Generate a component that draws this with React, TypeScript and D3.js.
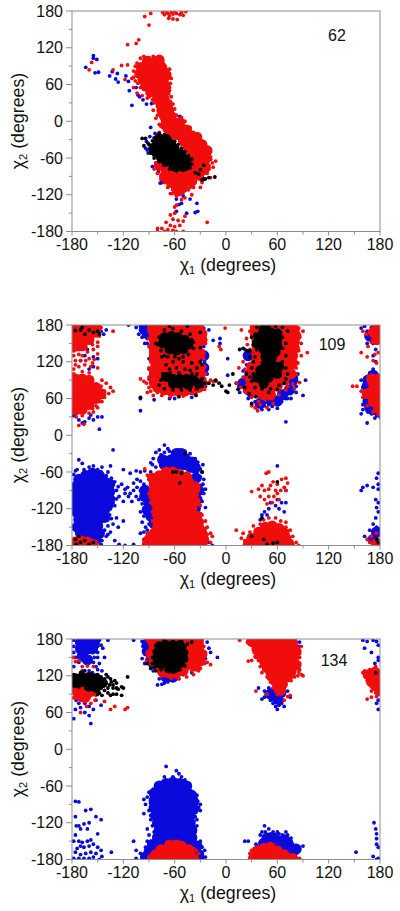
import React from "react";
import * as d3 from "d3";

type P = [number, number];

const xTicks = [-180, -120, -60, 0, 60, 120, 180];
const yTicks = [-180, -120, -60, 0, 60, 120, 180];
const minorTicks = [-150, -90, -30, 30, 90, 150];

// ---- residue 62 ----
const label62 = "62";
const blue62: P[] = [[-164,88],[-155,107],[-155,103],[-151,101],[-153,79],[-149,80],[-136,74],[-133,81],[-127,78],[-129,69],[-126,64],[-117,74],[-114,65],[-113,50],[-110,26],[-103,43],[-101,40],[-97,35],[-93,28],[-87,29],[-77,35],[-73,35],[-69,24],[-66,21],[-62,8],[-54,8],[-58,2],[-64,14],[-72,20],[-105,55],[-95,52],[-88,-10],[-83,-20],[-89,-25],[-93,-33],[-94,-44],[-91,-52],[-92,-47],[-86,-74],[-82,-68],[-79,-82],[-77,-101],[-73,-93],[-75,-100],[-70,-98],[-66,-104],[-62,-112],[-58,-127],[-52,-134],[-58,-147],[-46,-150],[-33,-147],[-36,-149],[-34,-134],[-42,-127],[-55,-118],[-50,-122],[-55,-136],[-42,-20],[-38,-24],[-34,-31],[-30,-36],[-24,-41],[-21,-60],[-24,-66]];
const red62: P[] = [[-95,171],[-88,176],[-90,157],[-47,179],[-115,125],[-105,127],[-102,133],[-157,96],[-160,84],[-132,84],[-122,91],[-115,92],[-110,70],[-118,68],[-108,55],[-104,46],[-98,42],[-92,38],[-74,178],[-72,174],[-70,180],[-68,176],[-66,172],[-64,178],[-62,175],[-60,180],[-58,176],[-54,174],[-52,178],[-67,168],[-62,167],[-57,166],[-50,173],[-66,85],[-70,60],[-66,50],[-64,40],[-80,10],[-85,18],[-78,-5],[-30,-108],[-25,-95],[-18,-92],[-15,-75],[-12,-65],[-18,-62],[-44,-112],[-40,-120],[-38,-108],[-48,-125],[-52,-128],[-65,-118],[-60,-140],[-58,-137],[-22,-165],[-60,-150],[-65,-153],[-48,-155],[-62,-160],[-56,-162],[-50,-163],[-70,-165],[-65,-170],[-60,-172],[-54,-170],[-75,-175],[-68,-177],[-62,-178],[-72,-180],[-80,-175],[-80,-180],[-58,-180],[-50,-180],[-40,-105],[-28,-100],[-22,-85],[-20,-72],[-108,82],[-106,90],[-104,95],[-100,103],[-96,106],[-90,104],[-85,106],[-82,102],[-74,96],[-72,90],[-68,84],[-66,78],[-64,70],[-65,62],[-66,55],[-67,45],[-68,38],[-108,72],[-106,66],[-103,62],[-100,55],[-96,52],[-92,45],[-90,40],[-86,35],[-84,30],[-80,24],[-82,5],[-76,-8],[-60,20],[-62,28],[-58,10],[-52,6],[-48,0],[-42,-10],[-38,-18],[-33,-25],[-28,-32],[-24,-40],[-20,-50],[-18,-58],[-22,-68],[-16,-68],[-20,-78],[-25,-85],[-30,-95],[-36,-100],[-42,-108],[-50,-116],[-58,-122],[-63,-118],[-68,-108],[-72,-100],[-76,-95],[-80,-85],[-84,-78],[-74,-10],[-78,-18]];
const redCore62: P[] = [[-92,98],[-84,96],[-78,100],[-99,88],[-91,88],[-83,88],[-75,88],[-101,78],[-93,78],[-85,78],[-77,78],[-70,75],[-97,68],[-89,68],[-81,68],[-73,68],[-94,58],[-86,58],[-78,58],[-71,58],[-88,48],[-80,48],[-72,48],[-80,38],[-73,38],[-76,28],[-68,28],[-75,18],[-67,18],[-72,8],[-64,8],[-70,-2],[-62,-2],[-54,-2],[-68,-12],[-60,-12],[-52,-12],[-46,-14],[-66,-22],[-58,-22],[-50,-22],[-42,-24],[-34,-26],[-50,-32],[-42,-32],[-36,-34],[-28,-38],[-44,-42],[-36,-42],[-30,-44],[-22,-48],[-40,-50],[-32,-52],[-25,-52],[-38,-60],[-30,-60],[-24,-62],[-36,-70],[-28,-70],[-24,-76],[-78,-72],[-70,-80],[-62,-84],[-54,-84],[-46,-84],[-38,-82],[-30,-80],[-72,-90],[-64,-92],[-56,-92],[-48,-92],[-40,-90],[-32,-88],[-64,-100],[-56,-100],[-48,-100],[-40,-98],[-58,-108],[-50,-108],[-56,-114]];
const black62: P[] = [[-98,-28],[-94,-28],[-96,-40],[-91,-36],[-88,-48],[-28,-96],[-26,-94],[-20,-92],[-13,-91],[-24,-94],[-30,-79],[-26,-72],[-36,-84],[-32,-86],[-90,-38],[-89,-44],[-88,-52],[-84,-60],[-78,-66],[-72,-72],[-66,-78],[-58,-81],[-50,-80],[-42,-76],[-40,-70],[-40,-62],[-44,-56],[-48,-50],[-52,-44],[-56,-38],[-60,-33],[-66,-28],[-72,-22],[-78,-20],[-84,-27],[-86,-32]];
const blackCore62: P[] = [[-78,-28],[-70,-29],[-80,-36],[-72,-36],[-64,-37],[-84,-43],[-76,-44],[-68,-44],[-60,-45],[-82,-51],[-74,-52],[-66,-52],[-58,-53],[-52,-54],[-76,-59],[-68,-60],[-60,-60],[-52,-62],[-47,-63],[-70,-66],[-62,-68],[-54,-69],[-47,-69],[-61,-74],[-54,-74],[-48,-74]];

// ---- residue 109 ----
const label109 = "109";
const blue109: P[] = [[-176,-178],[-176,-58],[-172,-40],[-168,-46],[-160,-52],[-155,-50],[-150,-56],[-145,-52],[-138,-60],[-135,-50],[-132,-24],[-120,-56],[-112,-62],[-105,-58],[-100,-60],[-95,-58],[-122,-80],[-115,-85],[-108,-78],[-100,-75],[-118,-95],[-125,-100],[-120,-108],[-112,-95],[-105,-100],[-110,-108],[-98,-95],[-92,-85],[-128,-90],[-130,-115],[-135,-120],[-128,-135],[-120,-140],[-132,-145],[-126,-150],[-135,-158],[-140,-165],[-130,-172],[-125,-178],[-118,-180],[-108,-178],[-145,-172],[-100,-160],[-96,-170],[-92,-178],[-88,-45],[-85,-38],[-82,-28],[-78,-24],[-72,-16],[-88,-60],[-68,-22],[-62,-28],[-30,-55],[-27,-48],[-33,-44],[-28,-60],[-26,-72],[-30,-82],[-24,-88],[-26,-95],[-28,-108],[-24,-118],[-30,-128],[-20,-175],[-26,-170],[-16,-180],[-30,-140],[-40,-165],[-162,140],[-175,140],[-170,122],[-165,130],[-155,128],[-150,125],[-160,108],[-155,112],[-148,78],[-178,32],[-172,25],[-168,20],[-176,35],[-160,28],[-155,25],[-150,30],[-145,30],[-158,33],[-148,10],[-145,62],[-165,22],[-150,172],[-146,170],[-148,178],[-143,165],[-140,172],[-155,176],[-114,180],[-105,176],[-100,172],[-97,180],[-102,165],[-95,150],[-92,158],[-88,130],[-85,120],[-90,108],[-100,40],[-84,58],[-66,60],[-60,60],[-40,62],[-15,155],[-7,150],[-7,158],[-26,165],[-25,120],[-22,100],[-24,80],[-20,172],[2,98],[2,125],[12,85],[16,70],[15,80],[22,140],[24,125],[20,105],[24,90],[26,60],[30,50],[35,45],[42,42],[45,48],[50,42],[54,47],[60,50],[65,55],[70,60],[72,68],[75,76],[80,85],[82,95],[78,105],[80,112],[75,125],[70,22],[93,90],[90,65],[82,70],[76,60],[60,44],[55,58],[63,62],[68,72],[-100,60],[165,20],[158,35],[160,42],[165,40],[170,35],[176,32],[180,30],[178,40],[160,50],[162,82],[158,90],[165,95],[168,102],[165,150],[172,150],[175,140],[172,130],[175,120],[162,178],[158,175],[170,176],[165,170],[178,-62],[176,-70],[178,-80],[178,-88],[172,-85],[165,-82],[160,-85],[158,-90],[175,-105],[178,-110],[176,-118],[178,-125],[175,-135],[172,-145],[176,-150],[178,-155],[168,-155],[162,-165],[166,-170],[172,-165],[176,-170],[70,-90],[60,-50],[70,-110],[65,-110],[60,-105],[52,-110],[58,-115],[50,-120],[45,-125],[42,-130],[40,-138],[62,-120],[68,-125],[48,-130],[-178,-64],[-174,-56],[-166,-56],[-158,-58],[-146,-60],[-140,-66],[-134,-70],[-130,-76],[-126,-84],[-132,-92],[-134,-100],[-128,-104],[-132,-110],[-136,-130],[-138,-138],[-134,-136],[-138,-148],[-142,-155],[-138,-162],[-146,-178],[-150,-174],[-118,-88],[-114,-100],[-108,-90],[-104,-85],[-100,-90],[-102,-105],[-98,-112],[-96,-120],[-100,-125],[-96,-132],[-98,-142],[-94,-150],[-96,-158],[-104,-72],[-90,-72],[-96,-80],[-92,-96],[-92,-105],[-92,-115],[-90,-125],[-90,-135],[-90,-145],[-92,-155],[-86,-48],[-82,-52],[-76,-32],[-72,-28],[-66,-26],[-55,-24],[-48,-26],[-42,-30],[-36,-38],[-32,-50],[-30,-68],[-27,-80],[-30,-95],[-30,-105],[-32,-118],[-100,178],[-96,174],[-94,168],[-92,178],[-98,160],[-90,165],[-88,172],[-92,150],[-88,142],[-90,125],[-86,115],[-88,100],[-90,92],[-26,175],[-24,155],[-26,145],[-25,105],[-25,92],[22,130],[24,115],[22,95],[26,80],[28,65],[34,55],[40,50],[47,55],[50,50],[58,52],[66,62],[72,60],[78,72],[82,80],[84,100],[80,120],[166,60],[162,70],[160,78],[164,88],[170,100],[172,108],[174,28],[166,38]];
const blueCore109: P[] = [[-172,-72],[-164,-66],[-156,-62],[-148,-66],[-174,-82],[-166,-78],[-158,-76],[-150,-76],[-142,-76],[-136,-80],[-176,-92],[-168,-90],[-160,-88],[-152,-88],[-144,-88],[-136,-92],[-176,-104],[-168,-102],[-160,-100],[-152,-100],[-144,-100],[-136,-104],[-176,-116],[-168,-114],[-160,-112],[-152,-112],[-144,-112],[-138,-114],[-174,-126],[-166,-124],[-158,-124],[-150,-124],[-142,-122],[-172,-138],[-164,-136],[-156,-136],[-148,-136],[-142,-134],[-174,-150],[-166,-148],[-158,-148],[-150,-148],[-170,-160],[-162,-160],[-154,-160],[-148,-160],[-152,-170],[-72,-48],[-64,-40],[-56,-36],[-48,-38],[-40,-44],[-66,-50],[-58,-48],[-50,-48],[-42,-52],[-36,-54],[-95,-100],[-90,-110],[-92,-122],[-88,-132],[-84,-144],[-95,-90],[-85,-100],[-82,-120],[-35,-70],[-32,-90],[-34,-105],[-36,-120],[-74,-40],[-58,-30],[-52,-30],[44,60],[52,58],[60,56],[66,66],[74,74],[78,90],[40,52],[30,70],[20,85],[-95,172],[-92,166],[-26,130],[-26,110],[26,130],[28,100],[166,70],[165,80],[166,55],[168,46],[172,42],[166,90],[172,98],[168,162],[174,160],[-170,-175],[176,-158],[172,-170]];
const red109: P[] = [[-178,-170],[-132,170],[-166,18],[-172,16],[-175,30],[-145,90],[-140,85],[-135,78],[-132,72],[-137,68],[-150,110],[-156,118],[-165,115],[-172,112],[-178,108],[-170,122],[-160,125],[-150,133],[-172,132],[-178,130],[-162,136],[-155,140],[-150,145],[-168,130],[-148,75],[-145,55],[-150,45],[-155,38],[-100,92],[-96,88],[-93,85],[-90,95],[-90,78],[-88,72],[-92,70],[-85,65],[-75,65],[-65,63],[-50,64],[-35,70],[-25,75],[-22,85],[-18,90],[-15,88],[-30,140],[-8,145],[-6,140],[-1,175],[-25,160],[-28,95],[-38,68],[-12,88],[13,85],[17,78],[22,72],[24,82],[15,110],[20,120],[25,148],[28,170],[18,172],[34,45],[37,40],[30,48],[40,50],[48,45],[55,52],[85,138],[88,150],[78,142],[82,110],[86,86],[80,76],[72,80],[90,170],[95,135],[85,175],[148,80],[153,80],[158,72],[160,62],[165,48],[172,38],[178,34],[158,135],[165,128],[172,122],[176,118],[174,132],[166,145],[178,135],[170,152],[164,165],[160,170],[-95,-55],[-88,-68],[-92,-65],[-28,-130],[-22,-150],[-18,-160],[-16,-165],[-22,-170],[-24,-140],[-18,-175],[-88,-165],[-96,-178],[12,-155],[20,-160],[22,-172],[18,-168],[27,-175],[82,-175],[85,-180],[78,-165],[75,-155],[70,-150],[30,-92],[38,-88],[42,-82],[47,-62],[50,-60],[40,-100],[45,-90],[50,-88],[55,-76],[60,-80],[65,-72],[70,-70],[72,-78],[68,-85],[45,-105],[50,-100],[56,-100],[60,-95],[64,-90],[52,-82],[58,-90],[54,-110],[48,-112],[62,-105],[70,-90],[-28,-150],[165,-170],[168,-175],[172,-180],[170,-165],[176,-160],[-178,138],[-172,140],[-164,142],[-156,148],[-150,152],[-148,162],[-146,176],[-176,122],[-164,122],[-158,112],[-154,124],[-176,115],[-168,104],[-160,102],[-178,100],[-146,80],[-142,72],[-142,62],[-148,55],[-152,48],[-160,36],[-168,32],[-174,36],[-156,44],[-90,170],[-90,158],[-90,145],[-88,120],[-90,110],[-88,90],[-86,80],[-80,70],[-26,170],[-24,150],[-26,125],[-25,112],[-24,100],[-26,90],[24,158],[28,140],[22,108],[20,95],[26,72],[30,62],[38,55],[46,58],[54,60],[62,66],[70,74],[86,160],[88,130],[84,118],[82,100],[78,84],[-88,-80],[-90,-95],[-88,-110],[-86,-125],[-86,-140],[-92,-160],[-96,-172],[-32,-90],[-30,-115],[-28,-140],[-24,-152],[-22,-162],[28,-158],[32,-148],[40,-145],[44,-138],[50,-135],[58,-135],[64,-140],[70,-142],[72,-156],[76,-172]];
const redCore109: P[] = [[-176,176],[-168,176],[-160,176],[-152,176],[-176,166],[-168,166],[-160,166],[-152,168],[-176,156],[-168,156],[-160,156],[-176,146],[-168,146],[-176,92],[-168,92],[-160,90],[-176,82],[-168,82],[-160,82],[-152,78],[-176,72],[-168,72],[-160,72],[-152,70],[-146,68],[-176,62],[-168,62],[-160,62],[-152,60],[-176,52],[-168,52],[-160,50],[-176,42],[-168,42],[-86,176],[-78,176],[-70,176],[-62,176],[-54,176],[-46,176],[-38,176],[-32,176],[-84,166],[-76,166],[-68,166],[-60,166],[-52,166],[-44,164],[-34,166],[-28,166],[-84,156],[-76,156],[-68,156],[-60,156],[-52,156],[-44,156],[-34,156],[-28,156],[-84,146],[-76,146],[-68,146],[-60,146],[-52,146],[-44,146],[-34,146],[-84,136],[-76,136],[-68,136],[-60,136],[-52,136],[-44,136],[-34,136],[-30,134],[-84,126],[-76,126],[-68,126],[-60,124],[-52,124],[-44,126],[-36,126],[-82,116],[-74,116],[-66,116],[-58,114],[-50,114],[-42,116],[-34,116],[-30,110],[-84,106],[-76,106],[-68,106],[-60,106],[-52,106],[-44,106],[-36,106],[-84,96],[-76,96],[-68,96],[-60,96],[-52,96],[-44,96],[-36,96],[-30,100],[-84,86],[-76,86],[-68,86],[-60,86],[-52,86],[-44,86],[-36,86],[-28,86],[-80,78],[-70,78],[-60,78],[-50,78],[-40,78],[-72,74],[-64,72],[-56,72],[-48,72],[-40,74],[-32,78],[34,176],[42,176],[50,176],[58,176],[66,176],[74,176],[80,172],[34,166],[42,166],[50,166],[58,166],[66,168],[74,166],[82,162],[36,156],[44,156],[52,156],[60,156],[66,158],[74,156],[80,152],[36,146],[44,146],[52,146],[60,146],[66,146],[74,146],[80,142],[36,136],[44,136],[52,136],[60,136],[66,136],[72,136],[78,130],[36,130],[36,120],[44,124],[52,124],[58,124],[64,124],[72,124],[78,118],[30,112],[38,112],[46,112],[54,112],[60,112],[66,114],[74,112],[30,102],[38,102],[46,102],[54,102],[60,102],[66,102],[72,100],[76,100],[28,92],[36,92],[44,92],[52,92],[60,92],[68,90],[36,82],[44,76],[52,76],[60,80],[30,80],[26,74],[36,70],[44,66],[52,66],[-86,-70],[-78,-66],[-70,-60],[-62,-60],[-54,-64],[-46,-68],[-84,-80],[-76,-76],[-68,-72],[-60,-72],[-52,-74],[-44,-76],[-84,-90],[-76,-88],[-68,-84],[-60,-84],[-52,-84],[-44,-86],[-36,-84],[-84,-100],[-76,-98],[-68,-96],[-60,-96],[-52,-96],[-44,-98],[-38,-96],[-82,-110],[-74,-108],[-66,-108],[-58,-108],[-50,-108],[-42,-108],[-36,-108],[-80,-120],[-72,-120],[-64,-120],[-56,-120],[-48,-120],[-40,-120],[-80,-130],[-72,-130],[-64,-130],[-56,-130],[-48,-130],[-40,-130],[-34,-132],[-80,-140],[-72,-140],[-64,-140],[-56,-140],[-48,-140],[-40,-140],[-32,-142],[-80,-150],[-72,-150],[-64,-150],[-56,-150],[-48,-150],[-40,-150],[-32,-150],[-84,-160],[-76,-160],[-68,-160],[-60,-160],[-52,-160],[-44,-160],[-36,-160],[-28,-160],[-90,-170],[-82,-170],[-74,-170],[-66,-170],[-58,-170],[-50,-170],[-42,-170],[-34,-170],[-26,-170],[-92,-178],[-84,-178],[-76,-178],[-68,-178],[-60,-178],[-52,-178],[-44,-178],[-36,-178],[-28,-178],[46,-150],[54,-148],[62,-152],[38,-158],[46,-158],[54,-158],[62,-158],[68,-160],[30,-168],[38,-168],[46,-168],[54,-168],[62,-168],[70,-168],[26,-178],[34,-178],[42,-178],[50,-178],[58,-178],[66,-178],[74,-178],[-176,-174],[-170,-172],[-162,-174],[-155,-178],[172,85],[172,75],[172,65],[172,55],[178,92],[178,82],[178,72],[178,62],[178,52],[178,44],[165,68],[170,92],[176,176],[172,168],[178,165],[176,156],[176,-176]];
const black109: P[] = [[-176,171],[-170,172],[-168,176],[-165,165],[-155,168],[-150,170],[-148,165],[-160,172],[-176,-170],[-172,-165],[-170,-175],[-165,-172],[-160,-178],[-155,-175],[-175,-178],[-100,62],[-55,63],[-35,65],[-25,85],[-20,85],[-15,82],[-12,90],[-8,85],[-28,80],[-5,80],[0,72],[2,70],[4,82],[8,100],[14,75],[16,140],[20,142],[25,138],[28,128],[30,52],[27,68],[22,78],[24,100],[35,63],[-30,143],[-30,120],[-28,115],[-34,110],[-40,118],[-50,120],[-55,125],[-62,120],[-70,115],[-75,128],[-82,150],[-30,168],[-45,178],[-66,178],[-38,152],[-48,-30],[-62,-60],[-58,-60],[-52,-62],[-54,-78],[-28,-60],[60,-76],[42,-135],[30,-165],[60,-175],[44,-170],[48,-178],[55,-176],[70,130],[72,170],[40,170],[32,148],[36,140],[32,120],[30,110],[28,95],[66,120],[68,85],[60,75],[50,70],[40,85],[176,-170],[178,-175],[-78,160],[-80,148],[-76,138],[-72,172],[-62,174],[-52,170],[-42,165],[-40,156],[-38,142],[-44,132],[-50,128],[-60,128],[-68,128],[-72,130],[-58,110],[-66,108],[-48,108],[-42,106],[-74,100],[-76,90],[-78,82],[-72,76],[-62,74],[-52,74],[-42,74],[-34,76],[-28,92],[-34,100],[-40,100],[-55,102],[-65,102],[70,150],[66,142],[70,110],[72,100],[70,92],[36,176],[42,178],[50,178],[58,178],[66,176],[34,165],[30,160],[66,160],[28,138],[34,128],[32,100],[30,88],[34,78],[42,76],[52,76],[62,82]];
const blackCore109: P[] = [[-72,160],[-64,162],[-56,160],[-48,156],[-74,150],[-66,150],[-58,150],[-50,150],[-44,148],[-66,140],[-58,138],[-50,140],[-70,95],[-62,92],[-54,92],[-46,92],[-38,90],[-62,84],[-54,84],[-44,82],[-32,84],[44,172],[52,168],[60,166],[38,160],[46,160],[54,158],[60,156],[36,150],[44,150],[52,150],[60,146],[44,140],[52,138],[58,136],[46,128],[54,128],[46,116],[54,116],[62,112],[40,106],[48,106],[56,106],[60,100],[42,96],[50,94],[36,94],[44,84]];

// ---- residue 134 ----
const label134 = "134";
const blue134: P[] = [[-178,178],[-178,168],[-172,165],[-160,175],[-152,176],[-146,170],[-138,178],[-150,168],[-150,150],[-148,140],[-155,142],[-160,128],[-145,128],[-150,130],[-146,72],[-155,65],[-160,70],[-165,75],[-152,80],[-160,55],[-165,60],[-176,65],[-178,50],[-158,42],[-172,75],[-175,80],[-170,68],[-108,178],[-98,176],[-97,168],[-96,158],[-92,172],[-98,148],[-95,140],[-90,150],[-88,135],[-85,128],[-80,105],[-75,106],[-72,108],[-68,110],[-62,112],[-60,120],[-55,115],[-50,122],[-78,115],[-74,120],[-40,125],[-35,130],[-22,175],[-20,165],[-18,158],[-10,150],[-28,168],[-24,148],[52,170],[60,175],[72,178],[78,176],[86,175],[85,168],[35,150],[38,100],[42,82],[45,95],[47,90],[50,85],[52,80],[55,75],[58,70],[60,65],[62,72],[66,80],[68,92],[72,95],[68,70],[65,75],[75,85],[45,85],[50,100],[55,95],[60,88],[160,178],[165,176],[172,178],[176,176],[178,170],[162,165],[170,158],[178,150],[174,140],[176,125],[178,145],[166,120],[178,65],[176,75],[178,80],[173,-120],[175,-130],[176,-138],[176,-146],[176,-155],[178,-160],[172,-175],[176,-180],[152,-168],[178,-178],[-176,-85],[-172,-86],[-176,-110],[-164,-100],[-158,-98],[-172,-125],[-175,-125],[-166,-122],[-160,-120],[-152,-110],[-146,-115],[-150,-138],[-162,-130],[-170,-130],[-176,-140],[-178,-150],[-172,-150],[-168,-152],[-162,-150],[-158,-148],[-170,-158],[-174,-162],[-166,-160],[-160,-158],[-155,-155],[-150,-160],[-146,-165],[-176,-168],[-170,-172],[-164,-170],[-158,-168],[-152,-170],[-145,-175],[-178,-178],[-172,-178],[-166,-178],[-160,-178],[-155,-176],[-148,-180],[-134,-168],[-108,-150],[-105,-165],[-100,-170],[-96,-172],[-90,-168],[-105,-178],[-98,-180],[-96,-82],[-94,-90],[-92,-78],[-90,-70],[-85,-65],[-85,-100],[-88,-115],[-92,-130],[-90,-140],[-88,-150],[-88,-160],[-96,-105],[-78,-55],[-72,-45],[-70,-28],[-62,-45],[-58,-35],[-55,-40],[-52,-45],[-48,-50],[-42,-60],[-38,-70],[-34,-75],[-30,-90],[-32,-95],[-30,-100],[-36,-110],[-34,-125],[-36,-135],[-30,-150],[-28,-160],[-25,-165],[-28,-170],[-30,-178],[-24,-176],[-40,-125],[22,-150],[26,-150],[35,-155],[42,-150],[44,-145],[45,-125],[46,-135],[50,-130],[55,-135],[60,-135],[62,-138],[66,-140],[72,-140],[76,-145],[78,-155],[80,-165],[85,-160],[90,-158],[82,-170],[70,-135],[48,-140],[40,-140],[35,-165],[-178,158],[-176,150],[-172,142],[-178,135],[-168,128],[-154,150],[-150,158],[-148,178],[-144,165],[-142,150],[-152,135],[-156,125],[-82,-60],[-86,-75],[-88,-88],[-90,-100],[-88,-108],[-86,-125],[-84,-135],[-92,-150],[-94,-160],[-42,-142],[-36,-145],[-35,-80],[-33,-85],[-36,-90],[-34,-115],[-38,-118],[40,-160],[36,-158],[42,-135],[52,-138],[58,-140],[68,-145],[75,-152],[80,-158]];
const blueCore134: P[] = [[-170,174],[-162,174],[-154,174],[-170,164],[-162,164],[-156,164],[-168,152],[-162,146],[-78,-60],[-70,-56],[-62,-54],[-54,-56],[-46,-60],[-84,-72],[-76,-68],[-68,-66],[-60,-66],[-52,-68],[-44,-72],[-40,-76],[-84,-84],[-76,-80],[-68,-78],[-60,-78],[-52,-80],[-44,-84],[-38,-86],[-84,-96],[-76,-92],[-68,-90],[-60,-90],[-52,-92],[-44,-96],[-38,-98],[-82,-108],[-74,-104],[-66,-102],[-58,-102],[-50,-104],[-42,-108],[-80,-120],[-72,-116],[-64,-114],[-56,-114],[-48,-116],[-42,-120],[-78,-132],[-70,-128],[-62,-126],[-54,-126],[-46,-128],[-40,-132],[-80,-144],[-72,-140],[-64,-138],[-56,-138],[-48,-140],[-40,-144],[-86,-156],[-78,-152],[-70,-150],[-62,-150],[-54,-150],[-48,-150],[-40,-154],[-34,-158],[-90,-168],[-84,-165],[-36,-168],[-32,-172],[-94,-176],[-32,-178],[48,-145],[56,-145],[62,-150],[68,-148],[72,-152],[44,-154],[52,-152],[60,-156],[68,-158],[74,-160],[76,-165],[82,-163],[-92,172],[-92,160],[-88,145],[-70,118],[-62,118],[52,90],[60,82],[56,92],[64,92]];
const red134: P[] = [[-178,150],[-176,143],[-172,145],[-168,135],[-162,136],[-155,135],[-150,120],[-142,78],[-130,70],[-118,65],[-153,80],[-158,75],[-163,70],[-170,60],[-135,65],[-115,68],[-88,140],[-85,135],[-82,130],[-78,125],[-93,144],[-40,128],[-30,132],[-25,140],[-22,142],[-18,138],[-28,150],[16,178],[25,175],[30,145],[26,144],[33,158],[35,165],[36,150],[40,135],[42,125],[44,130],[48,118],[52,110],[50,115],[55,100],[58,95],[62,98],[60,90],[68,80],[75,88],[72,86],[84,120],[88,122],[90,120],[86,130],[83,145],[86,150],[85,160],[88,168],[35,95],[48,90],[82,165],[160,125],[163,118],[165,112],[167,108],[170,102],[172,98],[165,82],[170,85],[178,90],[175,92],[-58,-160],[28,-170],[30,-165],[33,-162],[36,-160],[86,-178],[-32,-170],[-35,-165],[-38,-162],[-42,-158],[-88,168],[-90,160],[-88,150],[-92,178],[-28,178],[-26,168],[-24,158],[-28,140],[-32,128],[-38,122],[-46,118],[-56,116],[-64,116],[30,170],[32,162],[34,152],[38,145],[42,138],[46,128],[50,122],[54,108],[58,100],[66,100],[70,106],[76,112],[80,118],[85,126],[86,140],[86,156],[162,128],[168,130],[175,135],[166,118],[170,95],[176,86],[-170,80],[-165,78],[-160,84],[-152,88],[-178,84]];
const redCore134: P[] = [[-174,102],[-166,102],[-160,104],[-174,94],[-166,92],[-158,94],[-172,88],[-165,84],[-86,176],[-78,176],[-70,176],[-62,176],[-54,176],[-46,176],[-38,176],[-32,172],[-84,166],[-76,166],[-68,166],[-60,166],[-52,166],[-40,168],[-32,164],[-88,156],[-42,158],[-34,156],[-28,155],[-84,146],[-42,148],[-34,146],[-30,144],[-78,134],[-44,138],[-36,136],[-74,126],[-66,124],[-58,124],[-50,128],[30,176],[38,176],[46,176],[54,176],[62,176],[70,176],[78,174],[36,166],[44,166],[52,166],[60,166],[68,166],[76,166],[82,160],[40,156],[48,156],[56,156],[64,156],[72,156],[80,154],[44,146],[52,146],[60,146],[68,146],[76,146],[82,138],[48,136],[56,136],[64,136],[72,136],[78,134],[52,126],[60,126],[68,126],[76,126],[56,116],[64,116],[72,118],[60,106],[66,106],[64,96],[172,118],[178,118],[170,110],[176,110],[178,100],[174,126],[166,122],[-66,-156],[-58,-156],[-52,-158],[-76,-164],[-68,-164],[-60,-164],[-52,-164],[-44,-164],[-82,-172],[-74,-172],[-66,-172],[-58,-172],[-50,-172],[-42,-172],[-86,-178],[-78,-178],[-70,-178],[-62,-178],[-54,-178],[-46,-178],[-38,-178],[44,-162],[52,-160],[60,-166],[36,-168],[44,-170],[52,-170],[60,-170],[68,-172],[32,-178],[40,-178],[48,-178],[56,-178],[64,-178],[72,-178],[78,-178]];
const black134: P[] = [[-140,122],[-138,118],[-135,115],[-130,112],[-128,100],[-126,98],[-122,102],[-120,100],[-115,118],[-132,90],[-128,90],[-122,88],[-140,108],[-136,105],[-132,100],[-128,108],[-146,100],[-142,96],[-135,88],[-138,92],[-145,88],[-143,112],[-150,90],[-92,140],[-88,132],[-82,128],[-75,132],[-40,175],[-45,172],[-72,178],[175,125],[-178,122],[-170,125],[-165,128],[-160,122],[-84,160],[-86,150],[-86,140],[-80,170],[-72,176],[-62,176],[-52,176],[-48,168],[-46,158],[-46,146],[-48,136],[-54,130],[-62,126],[-70,128],[-76,130],[-84,134],[-150,122],[-146,118],[-142,115],[-134,110],[-132,105],[-138,100],[-148,92],[-156,98],[-164,100],[-172,102]];
const blackCore134: P[] = [[-176,116],[-168,118],[-160,118],[-152,116],[-176,108],[-168,110],[-160,110],[-152,108],[-144,108],[-152,100],[-160,102],[-78,168],[-70,170],[-62,170],[-54,170],[-80,158],[-72,160],[-64,160],[-56,160],[-50,158],[-80,148],[-72,150],[-64,150],[-56,150],[-50,148],[-78,140],[-70,140],[-62,140],[-54,140],[-66,132],[-60,132]];

const panels = [
  { top: 11, label: label62, labelX: 337, labelY: 41, blue: blue62, blueCore: [] as P[], red: red62, redCore: redCore62, black: black62, blackCore: blackCore62 },
  { top: 325, label: label109, labelX: 332, labelY: 350, blue: blue109, blueCore: blueCore109, red: red109, redCore: redCore109, black: black109, blackCore: blackCore109 },
  { top: 639, label: label134, labelX: 334, labelY: 666, blue: blue134, blueCore: blueCore134, red: red134, redCore: redCore134, black: black134, blackCore: blackCore134 },
];

const left = 72;
const plotW = 308;
const plotH = 220.5;
const axisColor = "#8c8c8c";
const font = "'Liberation Sans', Arial, Helvetica, sans-serif";

function Panel({ p, i }: { p: (typeof panels)[number]; i: number }) {
  const x = d3.scaleLinear().domain([-180, 180]).range([left, left + plotW]);
  const y = d3.scaleLinear().domain([-180, 180]).range([p.top + plotH, p.top]);
  const bottom = p.top + plotH;
  const layers: [P[], string, number][] = [
    [p.blueCore, "#0a0adc", 5.6],
    [p.blue, "#0a0adc", 1.9],
    [p.redCore, "#f20d0d", 5.4],
    [p.red, "#f20d0d", 1.9],
    [p.blackCore, "#000", 5],
    [p.black, "#000", 1.9],
  ];
  return (
    <g>
      <clipPath id={`clip${i}`}>
        <rect x={left} y={p.top} width={plotW} height={plotH} />
      </clipPath>
      <g clipPath={`url(#clip${i})`}>
        {layers.map(([pts, c, r], k) => (
          <g key={k} fill={c}>
            {pts.map((d, j) => (
              <circle key={j} cx={x(d[0])} cy={y(d[1])} r={r} />
            ))}
          </g>
        ))}
      </g>
      <rect x={left} y={p.top} width={plotW} height={plotH} fill="none" stroke={axisColor} strokeWidth={1} />
      {xTicks.map((t) => (
        <g key={t}>
          <line x1={x(t)} x2={x(t)} y1={bottom} y2={bottom + 4} stroke={axisColor} />
          <text x={x(t)} y={bottom + 18} textAnchor="middle" fontSize={16} fontFamily={font} fill="#111">{t}</text>
        </g>
      ))}
      {yTicks.map((t) => (
        <g key={t}>
          <line x1={left - 6} x2={left} y1={y(t)} y2={y(t)} stroke={axisColor} />
          <text x={left - 9} y={y(t) + 5.5} textAnchor="end" fontSize={16} fontFamily={font} fill="#111">{t}</text>
        </g>
      ))}
      {minorTicks.map((t) => (
        <g key={t}>
          <line x1={x(t)} x2={x(t)} y1={bottom} y2={bottom + 3} stroke={axisColor} />
          <line x1={left - 3} x2={left} y1={y(t)} y2={y(t)} stroke={axisColor} />
        </g>
      ))}
      <text x={228} y={bottom + 39} textAnchor="middle" fontSize={17.8} fontFamily={font} fill="#111">
        χ<tspan fontSize={11} dy={3}>1</tspan><tspan dy={-3}> (degrees)</tspan>
      </text>
      <text transform={`translate(24,${p.top + 110}) rotate(-90)`} textAnchor="middle" fontSize={17.8} fontFamily={font} fill="#111">
        χ<tspan fontSize={11} dy={3}>2</tspan><tspan dy={-3}> (degrees)</tspan>
      </text>
      <text x={p.labelX} y={p.labelY} textAnchor="middle" fontSize={16} fontFamily={font} fill="#111">{p.label}</text>
    </g>
  );
}

export default function App() {
  return (
    <svg width={400} height={911} style={{ position: "absolute", left: 0, top: 0, background: "#fff" }}>
      {panels.map((p, i) => (
        <Panel key={p.label} p={p} i={i} />
      ))}
    </svg>
  );
}
